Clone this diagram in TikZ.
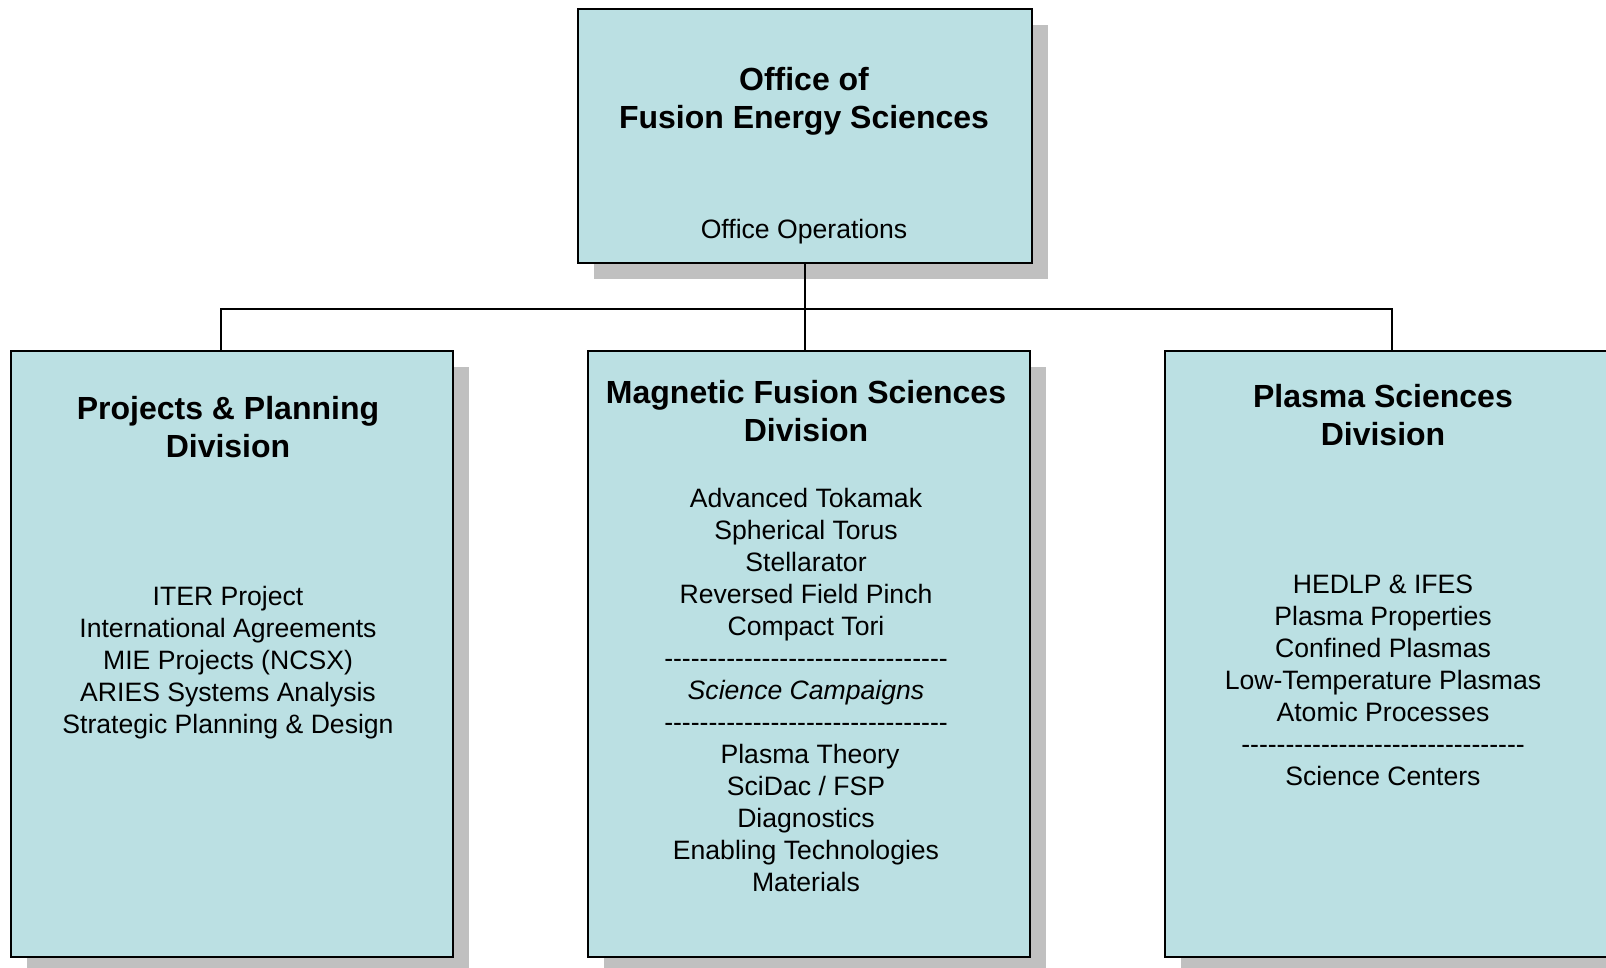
\documentclass[tikz,border=0pt]{standalone}
\usepackage{fontspec}
\setmainfont{Liberation Sans}
\usetikzlibrary{shadows}
\definecolor{boxfill}{RGB}{187,224,227}
\definecolor{shgray}{RGB}{192,192,192}
\newcommand{\dashrow}{-{}-{}-{}-{}-{}-{}-{}-{}-{}-{}-{}-{}-{}-{}-{}-{}-{}-{}-{}-{}-{}-{}-{}-{}-{}-{}-{}-{}-{}-{}-{}-{}}
\begin{document}
\begin{tikzpicture}[x=1pt,y=-1pt,
  orgbox/.style={draw=black,line width=2pt,fill=boxfill,rectangle,inner sep=0pt,
    general shadow={fill=shgray,shadow xshift=16pt,shadow yshift=-16pt}},
  bigbox/.style={orgbox,minimum width=442pt,minimum height=606pt},
  titletext/.style={anchor=base,inner sep=0pt,font=\fontsize{32}{38}\selectfont\bfseries},
  itemtext/.style={anchor=base,inner sep=0pt,font=\fontsize{26.6}{32}\selectfont},
  link/.style={line width=2pt,draw=black}]
\useasboundingbox (0,0) rectangle (1606,967);
% boxes
\node[orgbox,minimum width=454pt,minimum height=254pt] (ofes) at (805,136) {};
\node[bigbox] (ppd) at (232,654) {};
\node[bigbox] (mfsd) at (809,654) {};
\node[bigbox] (psd) at (1386,654) {};
% connectors
\coordinate (jL) at (221,309);
\coordinate (jR) at (1392,309);
\draw[link] (ofes.south) -- (ofes.south |- jL);
\draw[link] (jL |- ppd.north) -- (jL) -- (jR) -- (jR |- psd.north);
\draw[link] (ofes.south |- jL) -- (ofes.south |- mfsd.north);
% top box text
\node[titletext] (t1) at (804,90) {Office of};
\node[titletext] (t2) at (804,128) {Fusion Energy Sciences};
\node[itemtext] (t3) at (804,238) {Office Operations};
% left box
\node[titletext] (pt1) at (228,419) {Projects \& Planning};
\node[titletext] (pt2) at (228,457) {Division};
\foreach \txt [count=\i] in {ITER Project, International Agreements, MIE Projects (NCSX), ARIES Systems Analysis, Strategic Planning \& Design}
  \node[itemtext] (pl\i) at (228,{605+(\i-1)*32}) {\txt};
% middle box
\node[titletext] (mt1) at (806,403) {Magnetic Fusion Sciences};
\node[titletext] (mt2) at (806,441) {Division};
\foreach \txt [count=\i] in {Advanced Tokamak, Spherical Torus, Stellarator, Reversed Field Pinch, Compact Tori, \dashrow, {\itshape Science Campaigns}, \dashrow}
  \node[itemtext] (ml\i) at (806,{507+(\i-1)*32}) {\txt};
\node[itemtext] (ml9) at (810,763) {Plasma Theory};
\foreach \txt [count=\i from 10] in {SciDac / FSP, Diagnostics, Enabling Technologies, Materials}
  \node[itemtext] (ml\i) at (806,{507+(\i-1)*32}) {\txt};
% right box
\node[titletext] (st1) at (1383,407) {Plasma Sciences};
\node[titletext] (st2) at (1383,445) {Division};
\foreach \txt [count=\i] in {HEDLP \& IFES, Plasma Properties, Confined Plasmas, Low-Temperature Plasmas, Atomic Processes, \dashrow, Science Centers}
  \node[itemtext] (sl\i) at (1383,{593+(\i-1)*32}) {\txt};
\end{tikzpicture}
\end{document}
